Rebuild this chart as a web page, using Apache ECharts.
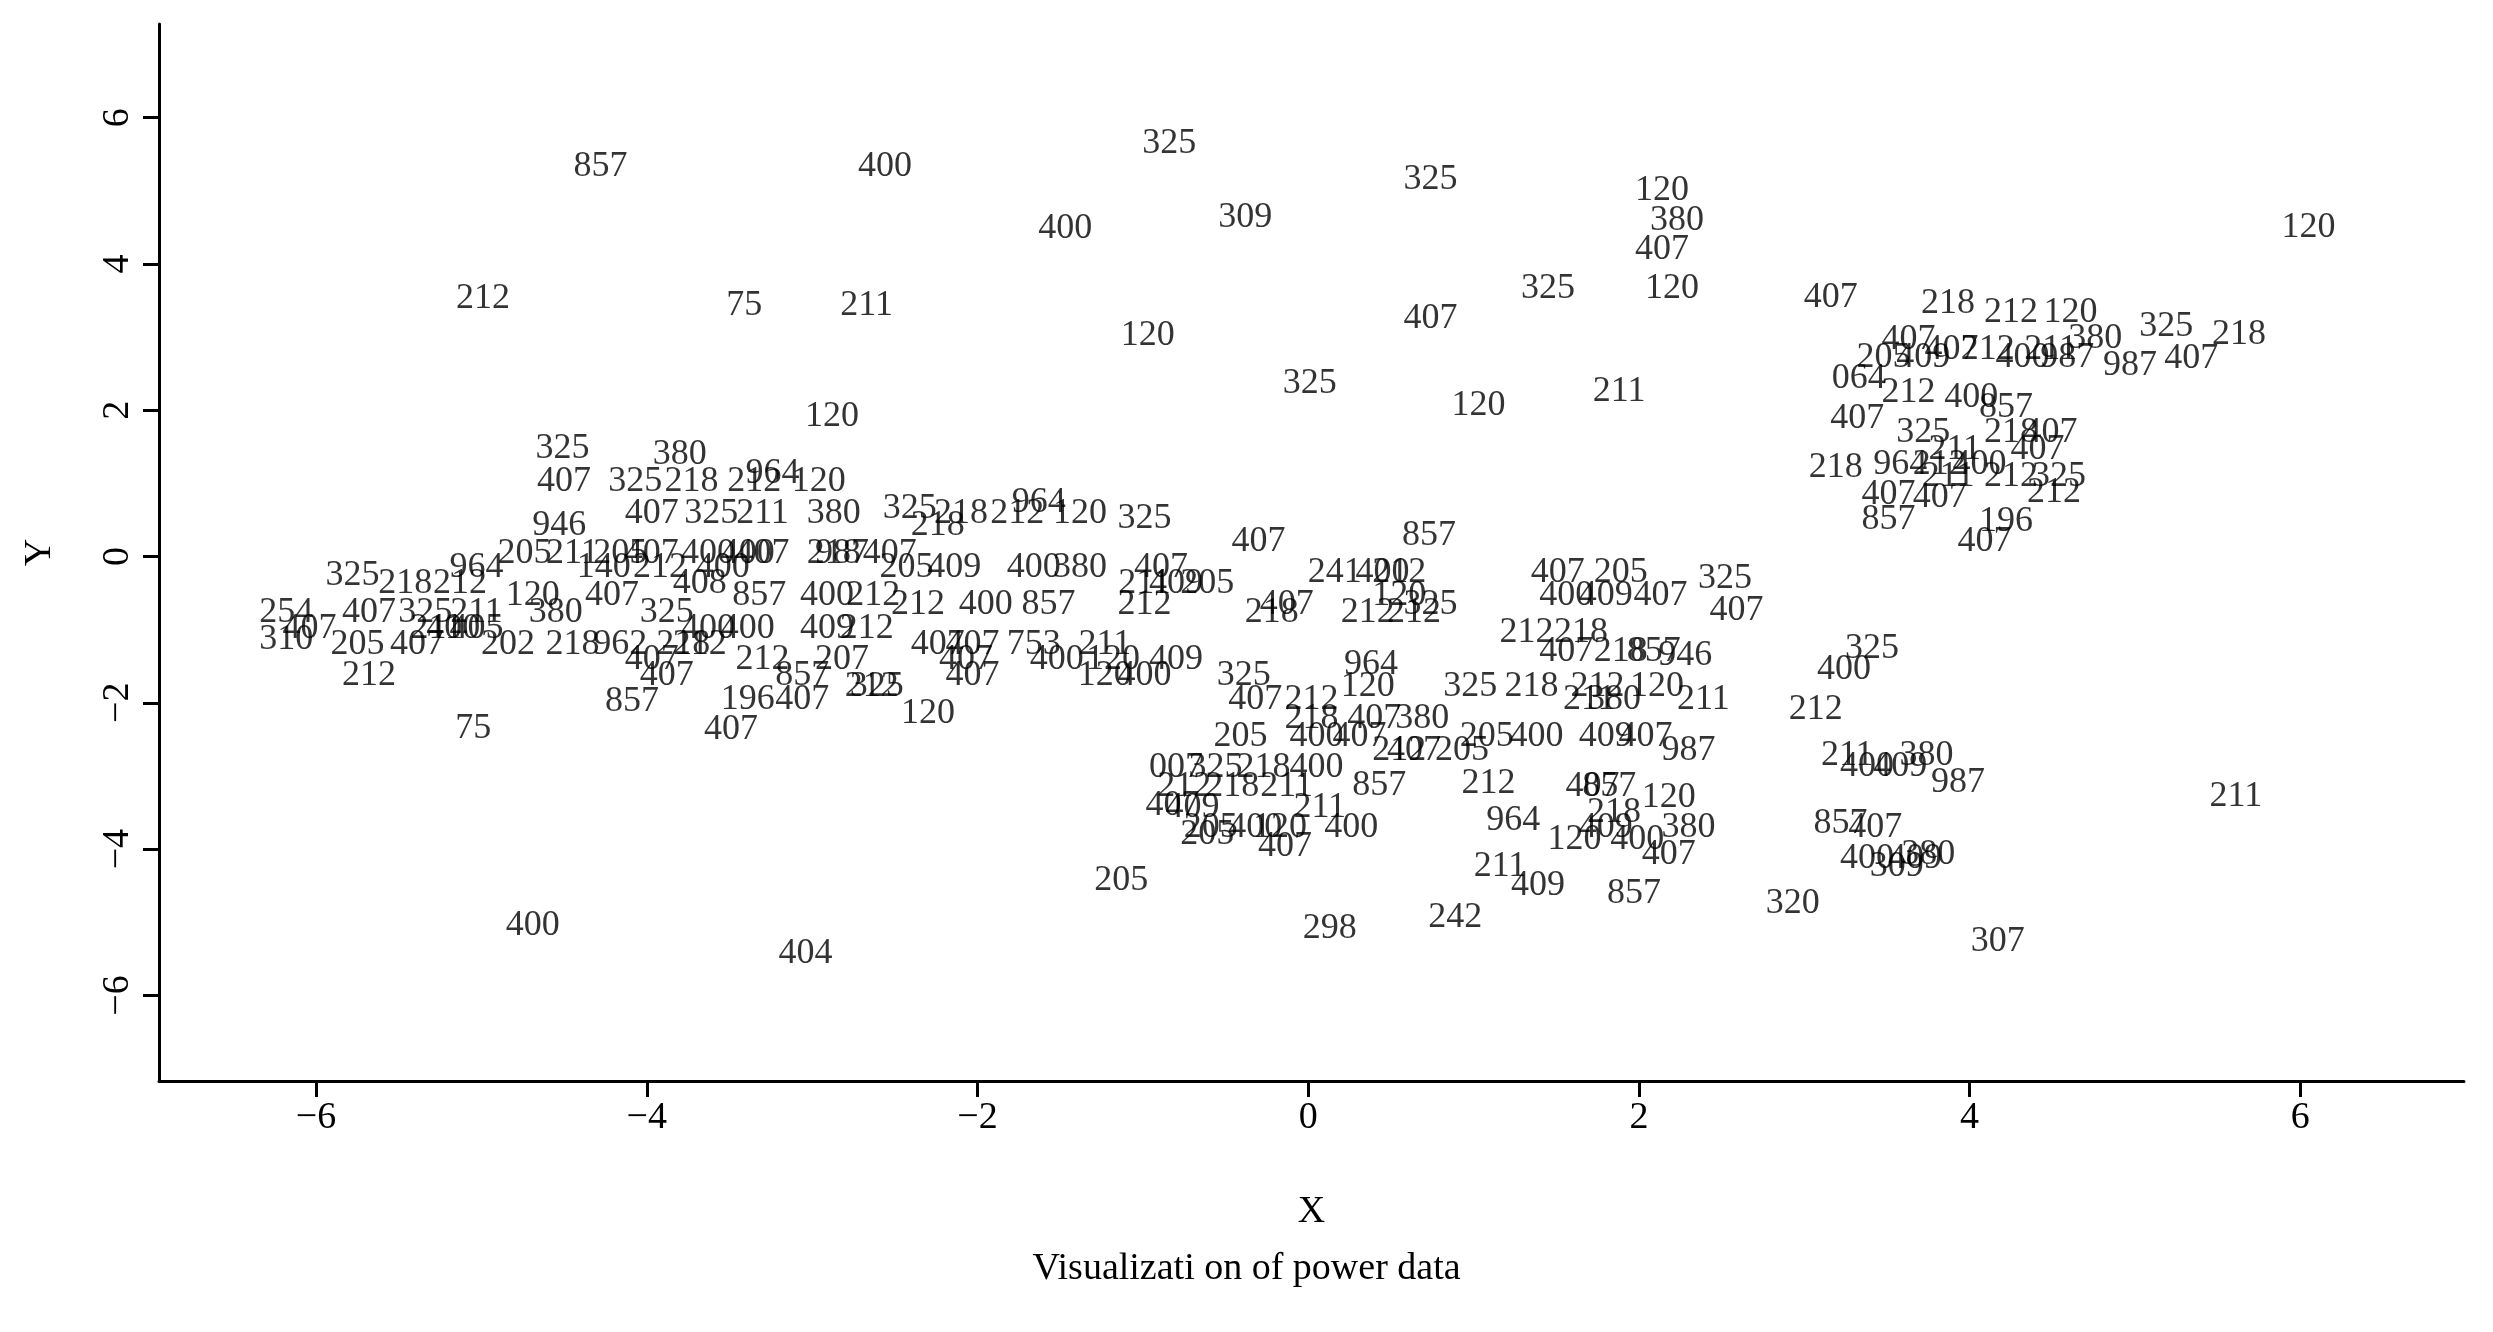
<!DOCTYPE html>
<html><head><meta charset="utf-8">
<script src="https://cdn.jsdelivr.net/npm/echarts@6/dist/echarts.min.js"></script>
<style>html,body{margin:0;background:#fff}#c{width:2493px;height:1332px}</style>
</head><body><div id="c"></div>
<script>
// [x, y, label]
var isolatedPts = [
  [-4.28,5.33,'857'],[-2.56,5.33,'400'],[-0.84,5.65,'325'],[-1.47,4.48,'400'],[-0.38,4.63,'309'],
  [0.74,5.15,'325'],[2.14,5.0,'120'],[2.23,4.59,'380'],[2.14,4.2,'407'],[6.05,4.5,'120'],
  [-4.99,3.52,'212'],[-3.41,3.43,'75'],[-2.67,3.43,'211'],[-0.97,3.02,'120'],[0.74,3.26,'407'],
  [1.45,3.67,'325'],[2.2,3.67,'120'],[3.16,3.54,'407'],[0.01,2.37,'325'],[1.03,2.07,'120'],
  [1.88,2.26,'211'],[-2.88,1.91,'120'],[-4.51,1.48,'325'],[-3.8,1.39,'380'],[-3.24,1.13,'964'],
  [0.73,0.28,'857'],[-0.3,0.2,'407'],[-0.99,0.52,'325'],[-1.63,0.74,'964'],[-2.41,0.65,'325'],
  [2.52,-0.3,'325'],[2.59,-0.74,'407'],[3.41,-1.26,'325'],[3.24,-1.54,'400'],[3.07,-2.09,'212'],
  [2.39,-1.96,'211'],[2.28,-1.35,'946'],[0.38,-1.48,'964'],[-0.39,-1.63,'325'],[-2.3,-2.15,'120'],
  [-3.49,-2.37,'407'],[-5.05,-2.35,'75'],[-4.09,-1.98,'857'],[-5.68,-1.63,'212'],[-6.18,-1.13,'310'],
  [-6.18,-0.76,'254'],[-5.78,-0.26,'325'],[5.61,-3.28,'211'],[4.17,-5.26,'307'],[2.93,-4.74,'320'],
  [1.97,-4.61,'857'],[1.16,-4.24,'211'],[1.39,-4.5,'409'],[0.89,-4.93,'242'],[0.13,-5.09,'298'],
  [-1.13,-4.43,'205'],[-4.69,-5.04,'400'],[-3.04,-5.43,'404']
];
var leftCluster = [
  [-4.5,1.02,'407'],[-4.07,1.02,'325'],[-3.73,1.02,'218'],[-3.35,1.02,'212'],[-2.96,1.02,'120'],
  [-3.97,0.59,'407'],[-3.61,0.59,'325'],[-3.3,0.59,'211'],[-2.87,0.59,'380'],[-2.1,0.59,'218'],[-1.76,0.59,'212'],[-1.38,0.59,'120'],
  [-4.53,0.43,'946'],[-2.24,0.43,'218'],
  [-4.74,0.04,'205'],[-4.45,0.04,'211'],[-3.97,0.04,'407'],[-4.16,0.04,'205'],[-3.63,0.04,'400'],[-3.3,0.04,'407'],
  [-2.82,0.04,'987'],[-2.53,0.04,'407'],[-2.87,0.04,'218'],[-3.39,0.04,'400'],
  [-5.03,-0.15,'964'],[-4.26,-0.15,'140'],[-3.92,-0.15,'212'],[-3.54,-0.15,'400'],[-2.43,-0.15,'205'],
  [-2.14,-0.15,'409'],[-1.66,-0.15,'400'],[-1.38,-0.15,'380'],[-0.89,-0.15,'407'],
  [-5.46,-0.37,'218'],[-5.13,-0.37,'212'],[-3.68,-0.37,'408'],[-0.99,-0.37,'211'],[-0.61,-0.37,'205'],[-0.8,-0.37,'409'],
  [-4.21,-0.54,'407'],[-4.69,-0.54,'120'],[-3.32,-0.54,'857'],[-2.91,-0.54,'400'],[-2.63,-0.54,'212'],
  [-2.36,-0.65,'212'],[-1.95,-0.65,'400'],[-1.57,-0.65,'857'],[-0.99,-0.65,'212'],
  [-5.68,-0.76,'407'],[-5.34,-0.76,'325'],[-5.03,-0.76,'211'],[-4.55,-0.76,'380'],[-3.88,-0.76,'325'],
  [-6.04,-0.98,'407'],[-5.27,-0.98,'211'],[-5.03,-0.98,'405'],[-3.63,-0.98,'400'],[-3.39,-0.98,'400'],
  [-2.91,-0.98,'409'],[-2.67,-0.98,'212'],[-5.17,-0.98,'400'],
  [-5.75,-1.2,'205'],[-5.39,-1.2,'407'],[-4.84,-1.2,'202'],[-4.16,-1.2,'962'],[-3.78,-1.2,'218'],
  [-3.68,-1.2,'212'],[-2.24,-1.2,'407'],[-1.66,-1.2,'753'],[-1.23,-1.2,'211'],[-4.45,-1.2,'218'],[-2.03,-1.2,'407'],
  [-3.97,-1.41,'407'],[-3.3,-1.41,'212'],[-2.82,-1.41,'207'],[-2.07,-1.41,'407'],[-1.52,-1.41,'400'],
  [-1.18,-1.41,'120'],[-0.8,-1.41,'409'],
  [-3.88,-1.63,'407'],[-3.06,-1.63,'857'],[-1.23,-1.63,'120'],[-0.99,-1.63,'400'],[-2.03,-1.63,'407'],
  [-2.64,-1.78,'212'],[-2.61,-1.78,'325'],[-3.39,-1.96,'196'],[-3.06,-1.96,'407']
];
var midCluster = [
  [-0.13,-0.65,'407'],[-0.22,-0.76,'218'],[0.36,-0.76,'212'],[0.55,-0.54,'120'],[0.74,-0.65,'325'],
  [0.16,-0.22,'241'],[0.45,-0.22,'400'],[0.55,-0.22,'212'],[1.51,-0.22,'407'],[1.89,-0.22,'205'],
  [1.56,-0.54,'400'],[1.8,-0.54,'409'],[2.13,-0.54,'407'],[0.64,-0.76,'212'],
  [1.32,-1.04,'212'],[1.65,-1.04,'218'],[1.56,-1.3,'407'],[1.89,-1.3,'218'],[2.09,-1.3,'857'],
  [0.98,-1.78,'325'],[1.35,-1.78,'218'],[1.75,-1.78,'212'],[2.11,-1.78,'120'],
  [-0.32,-1.96,'407'],[0.02,-1.96,'212'],[1.7,-1.96,'211'],[1.85,-1.96,'380'],[0.36,-1.78,'120'],
  [0.69,-2.22,'380'],[0.4,-2.22,'407'],[0.02,-2.22,'218'],
  [-0.41,-2.46,'205'],[0.05,-2.46,'400'],[0.31,-2.46,'407'],[1.08,-2.46,'205'],[1.38,-2.46,'400'],
  [1.8,-2.46,'409'],[2.04,-2.46,'407'],
  [0.55,-2.65,'212'],[0.64,-2.65,'407'],[0.93,-2.65,'205'],[2.3,-2.65,'987'],
  [-0.56,-2.89,'325'],[-0.27,-2.89,'218'],[0.05,-2.89,'400'],[-0.8,-2.89,'007'],
  [-0.75,-3.15,'212'],[-0.46,-3.15,'218'],[-0.13,-3.15,'211'],[1.72,-3.15,'407'],[1.82,-3.15,'857'],
  [0.43,-3.13,'857'],[1.09,-3.11,'212'],
  [-0.7,-3.43,'409'],[0.07,-3.43,'211'],[-0.82,-3.41,'407'],[-0.14,-3.96,'407'],[-0.61,-3.8,'205'],
  [-0.59,-3.7,'205'],[-0.32,-3.7,'400'],[-0.17,-3.7,'120'],[0.26,-3.7,'400'],[1.8,-3.7,'409'],
  [1.61,-3.87,'120'],[1.99,-3.87,'400'],[1.24,-3.61,'964'],[2.18,-3.3,'120'],[2.3,-3.7,'380'],
  [2.18,-4.07,'407'],[1.85,-3.5,'218']
];
var rightCluster = [
  [5.63,3.04,'218'],[5.19,3.15,'325'],[5.34,2.7,'407'],[4.97,2.61,'987'],[4.76,2.98,'380'],
  [3.87,3.46,'218'],[4.25,3.33,'212'],[4.61,3.33,'120'],[3.63,2.96,'407'],[3.32,1.89,'407'],
  [3.51,0.5,'857'],[4.09,0.2,'407'],[4.22,0.48,'196'],[3.51,0.85,'407'],[3.19,1.22,'218'],
  [3.33,2.43,'064'],[3.63,2.24,'212'],[4.01,2.17,'400'],[4.22,2.04,'857'],[4.51,0.87,'212'],
  [4.49,2.83,'211'],[3.89,2.83,'407'],[4.11,2.83,'212'],
  [3.48,2.72,'205'],[3.72,2.72,'409'],[4.32,2.72,'400'],[4.59,2.72,'987'],
  [3.72,1.7,'325'],[4.25,1.7,'218'],[4.49,1.7,'407'],
  [3.91,1.46,'211'],[4.41,1.46,'407'],
  [3.58,1.26,'964'],[3.82,1.26,'212'],[4.06,1.26,'400'],
  [3.87,1.09,'211'],[4.25,1.09,'212'],[4.54,1.09,'325'],[3.82,0.8,'407'],
  [3.26,-2.72,'211'],[3.74,-2.72,'380'],[3.93,-3.09,'987'],[3.22,-3.65,'857'],[3.75,-4.07,'380'],
  [3.56,-4.24,'309'],[3.38,-2.87,'400'],[3.58,-2.87,'409'],[3.43,-3.7,'407'],
  [3.38,-4.13,'400'],[3.67,-4.13,'409']
];

var font = 'Liberation Serif';
function textSeries(pts) {
  return {
    type: 'scatter', data: pts, symbolSize: 0, silent: true,
    label: { show: true, position: 'inside', color: '#000', fontFamily: font, fontSize: 36,
      formatter: function (p) { return p.data[2]; } }
  };
}
var ticks = [-6, -4, -2, 0, 2, 4, 6];
var fmt = function (v) { return v < 0 ? '\u2212' + (-v) : String(v); };

var chart = echarts.init(document.getElementById('c'));
chart.setOption({
  animation: false,
  grid: { left: 159, right: 29, top: 24, bottom: 251 },
  xAxis: {
    type: 'value', min: -6.95, max: 6.99, splitLine: { show: false },
    name: 'X', nameLocation: 'middle', nameGap: 112,
    nameTextStyle: { fontFamily: font, fontSize: 38, color: '#000' },
    axisLine: { onZero: false, lineStyle: { color: '#000', width: 3 } },
    axisTick: { customValues: ticks, length: 16, lineStyle: { color: '#000', width: 3 } },
    axisLabel: { customValues: ticks, formatter: fmt, fontFamily: font, fontSize: 38, color: '#000', margin: 18 }
  },
  yAxis: {
    type: 'value', min: -7.17, max: 7.28, splitLine: { show: false },
    name: 'Y', nameLocation: 'middle', nameGap: 100, nameRotate: 90,
    nameTextStyle: { fontFamily: font, fontSize: 38, color: '#000' },
    axisLine: { show: true, onZero: false, lineStyle: { color: '#000', width: 3 } },
    axisTick: { show: true, customValues: ticks, length: 16, lineStyle: { color: '#000', width: 3 } },
    axisLabel: { customValues: ticks, formatter: fmt, rotate: 90, fontFamily: font, fontSize: 38, color: '#000', margin: 22 }
  },
  graphic: [{
    type: 'text', left: 'center', top: 1250,
    style: { text: 'Visualizati on of power data', fontFamily: font, fontSize: 38, fill: '#000' }
  }],
  series: [textSeries(isolatedPts), textSeries(leftCluster), textSeries(midCluster), textSeries(rightCluster)]
});
</script></body></html>
